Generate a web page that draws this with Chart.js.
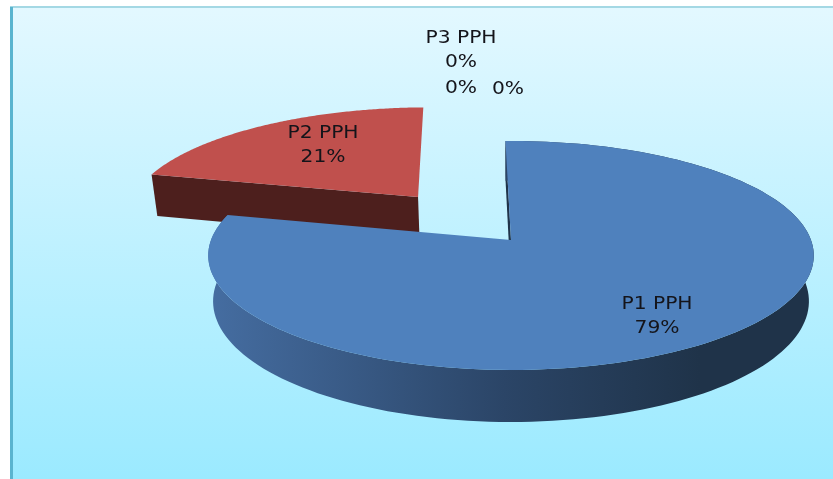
<!DOCTYPE html>
<html>
<head>
<meta charset="utf-8">
<title>PPH share</title>
<script src="https://cdn.jsdelivr.net/npm/chart.js@4/dist/chart.umd.min.js"></script>
<style>
    html, body { margin: 0; padding: 0; background: #fff; overflow: hidden; }
    canvas { display: block; }
</style>
</head>
<body>
<canvas id="pphChart" width="833" height="479"></canvas>
<script>
const categories = ['P1 PPH', 'P2 PPH', 'P3 PPH', '', ''];
const shares = [79, 21, 0, 0, 0];
const sliceOffsets = [0, 244, 0, 0, 0];
const topColors = ['#4f81bd', '#c0504d', '#9bbb59', '#8064a2', '#4bacc6'];
const sideColors = ['#1f3349', '#4d1f1d', '#3e4b23', '#33284a', '#1e4550'];

// tilted disc: where the pie sits on the page and how strong the perspective is
const view = { cx: 511, cy: 240, rx: 300, ry: 112.4, k: 0.135, depth: 45, shrink: 0.984 };
const labelCentres = [[657, 317], [323, 146], [461, 51], [461, 89], [508, 90]];
const labelStretch = 1.19;

// flat pie coordinates (unit radius) to page pixels, on the top or bottom face
function project(u, v, bottom) {
    const w = 1 - view.k * v;
    let x = view.rx * u / w;
    let y = view.ry * v / w;
    if (bottom) {
        x *= view.shrink;
        y += view.depth / w;
    }
    return [view.cx + x, view.cy + y];
}

function tracePoints(ctx, pts) {
    ctx.beginPath();
    pts.forEach(function (p, i) {
        if (i === 0) ctx.moveTo(p[0], p[1]);
        else ctx.lineTo(p[0], p[1]);
    });
    ctx.closePath();
}

function sliceEdge(arc, bottom) {
    const r = arc.outerRadius;
    const mid = (arc.startAngle + arc.endAngle) / 2;
    const off = (arc.options.offset || 0) / 4 / r;
    const ou = Math.cos(mid) * off;
    const ov = Math.sin(mid) * off;
    const steps = 160;
    const pts = [];
    for (let i = 0; i <= steps; i++) {
        const a = arc.startAngle + (arc.endAngle - arc.startAngle) * i / steps;
        pts.push(project(Math.cos(a) + ou, Math.sin(a) + ov, bottom));
    }
    return { pts: pts, tip: project(ou, ov, bottom) };
}

// true when part of the rim is on the near side of the disc
function rimFacesViewer(arc) {
    return arc.endAngle - arc.startAngle > Math.PI;
}

function stretchedText(ctx, text, x, y) {
    ctx.save();
    ctx.translate(x, y);
    ctx.scale(labelStretch, 1);
    ctx.fillText(text, 0, 0);
    ctx.restore();
}

const panel = {
    id: 'panel',
    beforeDraw: function (chart) {
        const ctx = chart.ctx;
        const g = ctx.createLinearGradient(0, 7, 0, 479);
        g.addColorStop(0, '#e3f8ff');
        g.addColorStop(1, '#9beaff');
        ctx.save();
        ctx.fillStyle = '#fff';
        ctx.fillRect(0, 0, 833, 479);
        ctx.fillStyle = g;
        ctx.fillRect(11, 7, 822, 472);
        ctx.fillStyle = '#a4d8e4';
        ctx.fillRect(10, 6, 823, 2);
        ctx.fillStyle = '#5ab4cf';
        ctx.fillRect(10, 7, 3, 472);
        ctx.restore();
    }
};

const tiltedPie = {
    id: 'tiltedPie',
    beforeDatasetDraw: function (chart, args) {
        const ctx = chart.ctx;
        const arcs = chart.getDatasetMeta(args.index).data;
        ctx.save();
        // the exploded slice sits behind, so walk the slices backwards
        for (let i = arcs.length - 1; i >= 0; i--) {
            const arc = arcs[i];
            if (arc.endAngle - arc.startAngle <= 0) continue;
            const top = sliceEdge(arc, false);
            const low = sliceEdge(arc, true);

            ctx.fillStyle = sideColors[i];
            tracePoints(ctx, [top.tip, top.pts[0], low.pts[0], low.tip]);
            ctx.fill();

            if (rimFacesViewer(arc)) {
                const g = ctx.createLinearGradient(210, 0, 700, 0);
                g.addColorStop(0, '#456da1');
                g.addColorStop(0.6, '#2b4567');
                g.addColorStop(1, '#1f3349');
                ctx.fillStyle = g;
                tracePoints(ctx, top.pts.concat(low.pts.slice().reverse()));
                ctx.fill();
            }

            ctx.fillStyle = topColors[i];
            tracePoints(ctx, [top.tip].concat(top.pts));
            ctx.fill();
        }
        ctx.restore();
        return false;
    }
};

const sliceLabels = {
    id: 'sliceLabels',
    afterDatasetsDraw: function (chart) {
        const ctx = chart.ctx;
        ctx.save();
        ctx.font = '17px "DejaVu Sans"';
        ctx.fillStyle = '#14141a';
        ctx.textAlign = 'center';
        ctx.textBaseline = 'middle';
        shares.forEach(function (share, i) {
            const c = labelCentres[i];
            const pct = share + '%';
            if (categories[i]) {
                stretchedText(ctx, categories[i], c[0], c[1] - 12);
                stretchedText(ctx, pct, c[0], c[1] + 12);
            } else {
                stretchedText(ctx, pct, c[0], c[1]);
            }
        });
        ctx.restore();
    }
};

new Chart(document.getElementById('pphChart'), {
    type: 'pie',
    data: {
        labels: categories,
        datasets: [{
            data: shares,
            backgroundColor: topColors,
            offset: sliceOffsets,
            borderWidth: 0
        }]
    },
    options: {
        responsive: false,
        animation: false,
        rotation: -1.2,
        plugins: {
            legend: { display: false },
            tooltip: { enabled: false }
        }
    },
    plugins: [panel, tiltedPie, sliceLabels]
});
</script>
</body>
</html>
